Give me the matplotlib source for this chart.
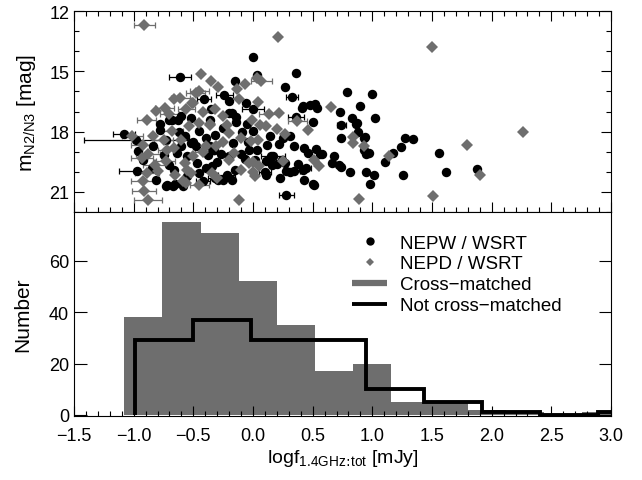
import matplotlib
matplotlib.use("Agg")
import matplotlib.pyplot as plt
from matplotlib.lines import Line2D
from matplotlib.ticker import MultipleLocator, FuncFormatter, FixedLocator
import numpy as np

plt.rcParams['font.family'] = ['Liberation Sans', 'DejaVu Sans']

# ---------------- data ----------------
# NEPW / WSRT (black circles): log flux, magnitude, x-error
nepw_x = [-0.61, 0.0, 0.03, 0.36, 0.27, 0.33, 0.41, 0.48, 0.54, 0.36, 0.5, 0.0, -0.06, -0.2,
          -0.24, -0.41, -0.2, -0.14, -0.09, -0.04, 0.0, 0.14, 0.25, 0.31, 0.12, 0.22, 0.34, 0.43,
          0.53, 0.56, 0.46, -0.03, 0.03, -0.07, 0.02, 0.11, 0.16, 0.2, 0.24, 0.15, 0.27, 0.38,
          0.28, 0.31, 0.34, 0.42, 0.11, 0.23, 0.43, 0.51, 0.28, -0.29, -0.25, -0.27, -0.33,
          -1.08, -0.98, -0.96, -0.92, -0.97, -0.73, -0.67, -0.59, -0.81, -0.75, -0.64, -0.55,
          -0.6, -0.52, -0.68, -0.45, -0.57, -0.39, -0.38, -0.45, -0.42, -0.47, -0.32, -0.36,
          -0.35, -0.17, -0.2, -0.15, -0.22, -0.34, -0.52, -0.6, -0.7, -0.73, -0.78, -0.84,
          -0.85, -0.48, -0.39,
          0.79, 1.0, 0.73, 0.74, 0.83, 0.86, 0.9, 0.88, 1.02, 0.74, 0.94, 0.93, 0.58, 0.68,
          0.66, 0.72, 0.74, 0.81, 0.95, 0.97, 0.95, 1.01, 0.98, 1.11, 1.17, 1.24, 1.27, 1.34,
          1.26, 1.56, 1.62, 1.88,
          0.17, 0.44, 0.1, 0.42, 0.52, -0.15, -0.18, -0.14, -0.7, -0.63, -0.78, -0.36, -0.33,
          -0.72, -0.65, -0.32, -0.18, -0.62, -0.5, -0.3, -0.1, -0.66, -0.55, -0.25, -0.05,
          0.93, 0.87, 0.5]
nepw_y = [15.3, 14.28, 15.2, 15.1, 15.78, 16.28, 16.82, 16.7, 16.82, 17.27, 17.5, 16.9, 16.6, 16.5,
          16.2, 16.4, 17.07, 17.27, 18.0, 18.5, 17.95, 18.23, 18.3, 18.23, 18.65, 18.6, 18.73, 18.82,
          18.85, 19.1, 19.07, 18.9, 18.9, 19.37, 19.4, 19.48, 19.65, 19.62, 19.4, 19.23, 19.57, 19.6,
          19.98, 20.03, 19.98, 19.93, 20.15, 20.32, 20.4, 20.68, 21.15, 20.4, 20.4, 19.1, 18.9,
          18.1, 18.4, 18.95, 19.4, 19.98, 20.73, 20.73, 20.73, 20.4, 19.15, 19.07, 19.23,
          17.23, 17.32, 17.4, 17.98, 18.23, 18.32, 19.15, 20.07, 20.48, 19.57, 18.15, 17.4,
          16.9, 18.57, 19.23, 19.9, 20.15, 19.73, 18.57, 18.73, 19.65, 18.4, 17.9, 18.73,
          19.82, 18.73, 19.82,
          16.05, 16.13, 17.0, 17.67, 17.33, 17.6, 16.73, 18.0, 17.3, 18.33, 18.28, 18.9, 19.1, 19.2,
          19.55, 19.65, 19.75, 20.03, 19.1, 19.05, 20.0, 20.15, 20.6, 19.53, 19.07, 18.77, 18.32, 18.38,
          20.15, 19.07, 20.03, 19.87,
          19.2, 19.8, 20.0, 16.75, 16.65, 15.5, 17.08, 17.5, 17.4, 17.4, 17.6, 18.7, 18.9,
          20.68, 20.6, 20.3, 20.4, 18.0, 18.5, 19.5, 19.1, 19.9, 20.2, 17.8, 17.6,
          18.33, 17.55, 20.6]
nepw_xerr = [0.09, 0, 0, 0, 0, 0.05, 0, 0, 0, 0.07, 0, 0.09, 0, 0,
             0.07, 0.06, 0, 0, 0, 0, 0, 0, 0, 0, 0, 0, 0, 0,
             0, 0, 0, 0, 0, 0, 0, 0, 0, 0, 0, 0, 0, 0,
             0, 0, 0.05, 0, 0, 0, 0, 0, 0.06, 0, 0, 0, 0,
             0.09, 0.44, 0, 0, 0.15, 0, 0, 0, 0, 0, 0, 0,
             0, 0, 0, 0, 0, 0, 0, 0, 0.06, 0, 0, 0,
             0, 0, 0, 0, 0.07, 0, 0, 0, 0, 0, 0, 0,
             0, 0, 0,
             0, 0, 0, 0.04, 0, 0, 0, 0, 0, 0, 0, 0, 0, 0,
             0, 0, 0, 0, 0, 0, 0, 0, 0, 0, 0, 0, 0, 0,
             0, 0, 0, 0,
             0.1, 0.05, 0.05, 0, 0, 0, 0, 0, 0, 0, 0, 0, 0,
             0, 0, 0.06, 0, 0, 0, 0, 0, 0, 0, 0, 0,
             0, 0, 0]

# NEPD / WSRT (grey diamonds)
nepd_x = [-0.91, 0.21, 1.5, -0.44, -0.35, -0.29, -0.07, -0.13, 0.07, 0.03, -0.45, -0.61, -0.66,
          -0.5, -0.56, -0.74, -0.81, -0.89, -0.32, -0.25, -0.12, 0.04, 0.13, -0.01, 0.06, 0.11,
          0.2, 0.27, 0.37, 0.46, 0.22, -1.01, -0.92, -0.84, -0.75, -0.66, -0.6, -0.54, -0.45,
          -0.36, -0.22, -0.2, -0.31, -0.39, -0.5, -0.57, -0.73, -0.82, -0.89, -0.92, -0.91,
          -0.88, -0.8, -0.65, -0.59, -0.52, -0.45, -0.34, -0.2, -0.1, -0.03, -0.16, 0.04, -0.02,
          0.25, 0.51, 0.55, -0.12, 0.0, 0.02, 0.65, 0.84, 0.84, 0.93, 1.14, 2.26, 1.79, 1.9,
          0.89, 1.51, -0.7, -0.48, -0.68, -0.25, -0.1, 0.0, 0.05, -0.42, -0.72, -0.88, -0.55,
          -0.3, -0.51, -0.42, -0.36, -0.93, -0.56]
nepd_y = [12.7, 13.27, 13.78, 15.15, 15.48, 15.77, 15.65, 15.9, 15.48, 15.32, 15.98, 16.32, 16.4,
          16.57, 16.9, 16.82, 16.98, 17.43, 16.9, 17.23, 16.4, 16.55, 17.1, 17.4, 17.65, 17.73,
          17.88, 18.1, 17.45, 17.9, 17.07, 18.2, 18.65, 18.23, 18.4, 18.82, 18.4, 17.73, 17.57,
          17.65, 17.65, 18.07, 18.73, 18.73, 19.23, 19.57, 19.48, 19.65, 20.07, 20.48, 20.98,
          21.4, 19.98, 20.15, 20.48, 20.07, 20.65, 20.07, 19.4, 19.9, 19.57, 19.07, 18.4, 18.48,
          19.48, 19.4, 19.73, 21.4, 20.0, 20.2, 16.77, 18.27, 18.57, 18.73, 19.23, 18.0, 18.68, 20.18,
          21.33, 21.2, 17.1, 16.1, 17.95, 18.5, 18.3, 19.5, 19.7, 19.0, 18.9, 19.1, 19.9,
          20.3, 16.6, 17.0, 17.6, 19.33, 20.57]
nepd_xerr = [0.09, 0, 0, 0, 0, 0, 0, 0, 0.09, 0, 0.08, 0.08, 0,
             0, 0.07, 0.08, 0, 0.08, 0, 0, 0, 0, 0.08, 0, 0, 0,
             0, 0, 0.08, 0, 0, 0.09, 0.1, 0, 0.08, 0, 0, 0, 0,
             0, 0, 0, 0, 0, 0, 0, 0.08, 0.1, 0.1, 0.1, 0.1,
             0.12, 0, 0, 0, 0, 0.08, 0, 0, 0, 0, 0, 0, 0,
             0, 0, 0, 0, 0, 0, 0, 0, 0, 0, 0, 0, 0, 0,
             0, 0, 0.08, 0.08, 0.09, 0, 0, 0, 0, 0.07, 0.08, 0.1, 0,
             0, 0, 0, 0, 0.09, 0]

# Histograms
cross_edges = [-1.08, -0.76, -0.44, -0.12, 0.20, 0.52, 0.84, 1.16, 1.48, 1.80, 2.12, 2.44, 2.76, 3.08]
cross_counts = [38, 75, 71, 52, 35, 17, 20, 5, 5, 2, 1, 0, 1]
notcross_edges = [-0.99, -0.505, -0.02, 0.465, 0.95, 1.435, 1.92, 2.405, 2.89, 3.375]
notcross_counts = [29, 37, 29, 29, 10, 5, 1, 0, 1]

GREY = '#6e6e6e'
TICK_FS = 13
LAB_FS = 15

fig = plt.figure(figsize=(6.42, 4.81), dpi=100)
ax1 = fig.add_axes([0.1153, 0.5572, 0.8364, 0.4178])
ax2 = fig.add_axes([0.1153, 0.1331, 0.8364, 0.4241])

nx, ny, ne = map(np.array, (nepw_x, nepw_y, nepw_xerr))
dx, dy, de = map(np.array, (nepd_x, nepd_y, nepd_xerr))

m = ne > 0
ax1.errorbar(nx[m], ny[m], xerr=ne[m], fmt='none', ecolor='black', elinewidth=0.9,
             capsize=2.5, capthick=0.9, zorder=2)
m2 = de > 0
ax1.errorbar(dx[m2], dy[m2], xerr=de[m2], fmt='none', ecolor=GREY, elinewidth=0.9,
             capsize=2.5, capthick=0.9, zorder=2)
ax1.plot(nx, ny, 'o', color='black', ms=6.8, mec='black', mew=0, zorder=3)
ax1.plot(dx, dy, 'D', color=GREY, ms=6.6, mec=GREY, mew=0, zorder=4)

ax1.set_xlim(-1.5, 3.0)
ax1.set_ylim(22, 12)
ax1.yaxis.set_major_locator(FixedLocator([12, 15, 18, 21]))
ax1.yaxis.set_minor_locator(MultipleLocator(1))
ax1.xaxis.set_major_locator(MultipleLocator(0.5))
ax1.xaxis.set_minor_locator(MultipleLocator(0.1))
ax1.tick_params(axis='both', which='both', direction='in', top=True, right=True,
                labelbottom=False, labelsize=TICK_FS)
ax1.tick_params(axis='both', which='major', length=7, width=0.8)
ax1.tick_params(axis='both', which='minor', length=3.5, width=0.8)
ax1.set_ylabel('m$_{\\mathregular{N2/N3}}$ [mag]', fontsize=LAB_FS, labelpad=8)

# bottom panel
ax2.stairs(cross_counts, cross_edges, fill=True, color=GREY, linewidth=0, zorder=1)
ax2.stairs(notcross_counts, notcross_edges, baseline=0, fill=False, color='black',
           linewidth=2.8, zorder=2)
ax2.set_xlim(-1.5, 3.0)
ax2.set_ylim(-0.4, 79)
ax2.yaxis.set_major_locator(FixedLocator([0, 20, 40, 60]))
ax2.xaxis.set_major_locator(MultipleLocator(0.5))
ax2.xaxis.set_minor_locator(MultipleLocator(0.1))
ax2.xaxis.set_major_formatter(FuncFormatter(lambda v, p: ('%.1f' % v).replace('-', '\u2212')))
ax2.tick_params(axis='both', which='both', direction='in', top=False, right=True, labelsize=TICK_FS)
ax2.tick_params(axis='y', which='major', length=9, width=0.8)
ax2.tick_params(axis='x', which='major', length=7, width=0.8, pad=8)
ax2.tick_params(axis='x', which='minor', length=3.5, width=0.8)
ax2.set_ylabel('Number', fontsize=LAB_FS, labelpad=12)
ax2.set_xlabel('logf$_{\\mathregular{1.4GHz}\\!:\\!\\mathregular{tot}}$ [mJy]',
               fontsize=14, labelpad=2)

for a in (ax1, ax2):
    for s in a.spines.values():
        s.set_linewidth(0.8)

handles = [
    Line2D([], [], ls='none', marker='o', color='black', ms=6, mew=0),
    Line2D([], [], ls='none', marker='D', color=GREY, ms=4.5, mew=0),
    Line2D([], [], color=GREY, lw=4.5, solid_capstyle='butt'),
    Line2D([], [], color='black', lw=2.8, solid_capstyle='butt'),
]
labels = ['NEPW / WSRT', 'NEPD / WSRT', 'Cross\u2212matched', 'Not cross\u2212matched']
ax2.legend(handles, labels, loc='upper left', bbox_to_anchor=(0.518, 0.89), frameon=False,
           fontsize=13.5, handlelength=1.85, handletextpad=0.7, labelspacing=0.2,
           borderpad=0.0, borderaxespad=0.0)

fig.savefig('out.png', dpi=100)
